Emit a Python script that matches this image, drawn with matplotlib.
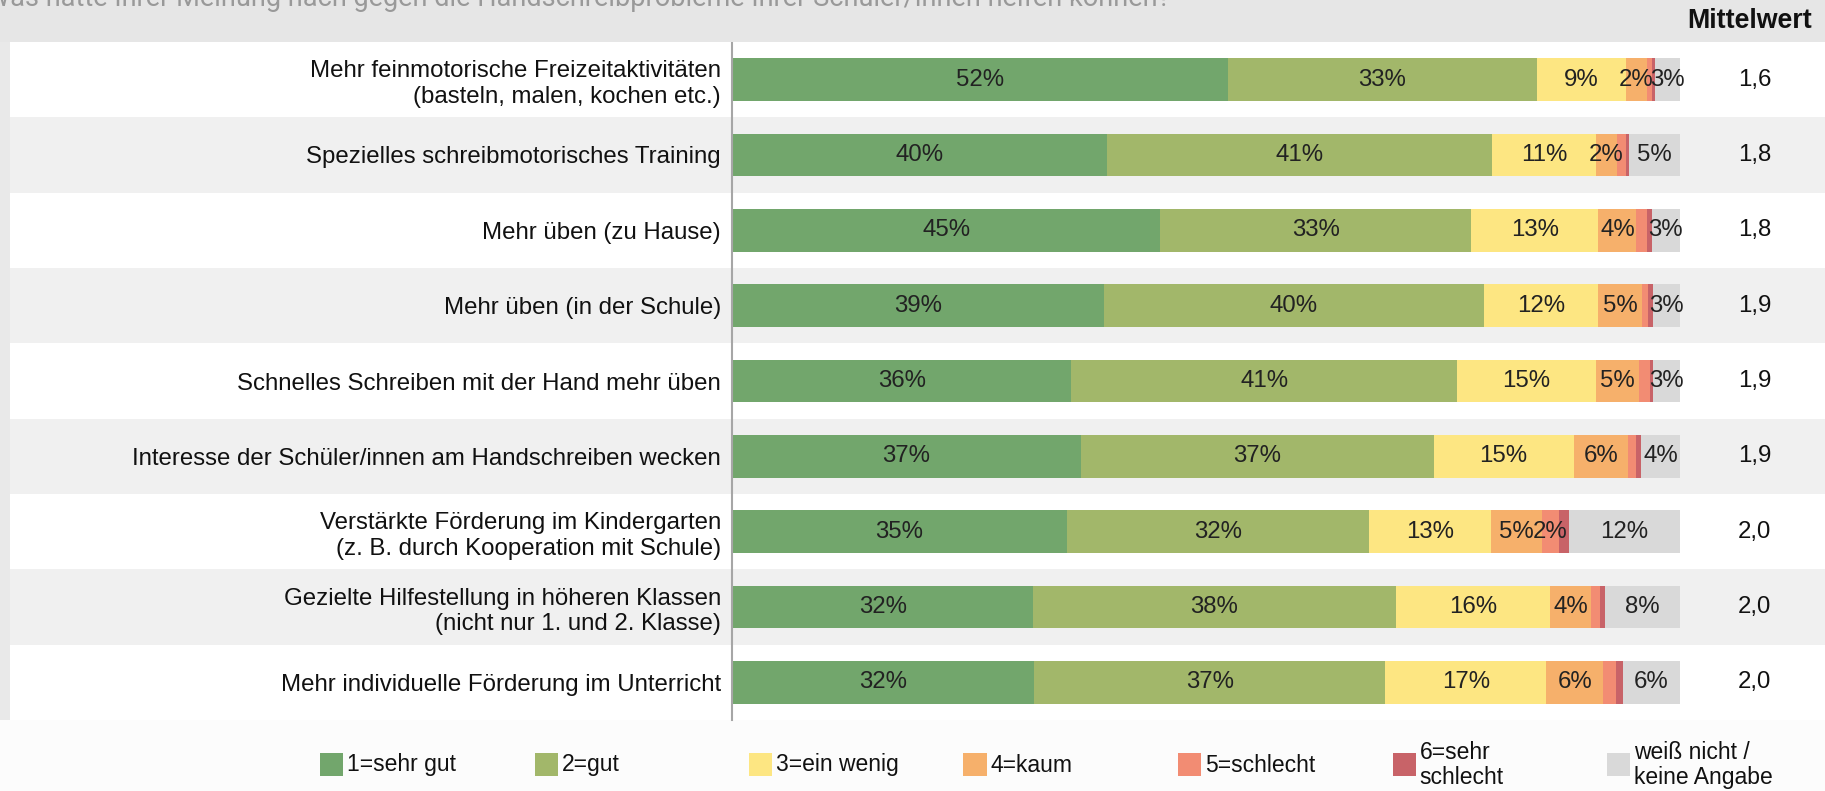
import numpy as np
import matplotlib
matplotlib.use("Agg")
import matplotlib.pyplot as plt
from matplotlib.patches import Rectangle

plt.rcParams['font.family'] = ['Liberation Sans', 'DejaVu Sans']

W, H = 1825, 791   # figure size in pixels

title = "Was hätte Ihrer Meinung nach gegen die Handschreibprobleme Ihrer Schüler/innen helfen können?"

items = [
    "Mehr feinmotorische Freizeitaktivitäten\n(basteln, malen, kochen etc.)",
    "Spezielles schreibmotorisches Training",
    "Mehr üben (zu Hause)",
    "Mehr üben (in der Schule)",
    "Schnelles Schreiben mit der Hand mehr üben",
    "Interesse der Schüler/innen am Handschreiben wecken",
    "Verstärkte Förderung im Kindergarten\n(z. B. durch Kooperation mit Schule)",
    "Gezielte Hilfestellung in höheren Klassen\n(nicht nur 1. und 2. Klasse)",
    "Mehr individuelle Förderung im Unterricht",
]

# shares in percent per answer category
sehr_gut = [52.3, 39.6, 45.2, 39.2, 35.8, 36.8, 35.3, 31.8, 31.9]
gut = [32.6, 40.6, 32.8, 40.1, 40.7, 37.2, 31.9, 38.2, 37.0]
ein_wenig = [9.4, 10.9, 13.4, 12.1, 14.6, 14.8, 12.9, 16.3, 17.0]
kaum = [2.2, 2.3, 4.0, 4.6, 4.6, 5.7, 5.3, 4.3, 6.0]
schlecht = [0.5, 0.9, 1.1, 0.6, 1.1, 0.9, 1.8, 1.0, 1.4]
sehr_schlecht = [0.4, 0.3, 0.5, 0.6, 0.3, 0.5, 1.1, 0.5, 0.7]
keine_angabe = [2.6, 5.4, 3.0, 2.8, 2.9, 4.1, 11.7, 7.9, 6.0]

mittelwert = [1.6, 1.8, 1.8, 1.9, 1.9, 1.9, 2.0, 2.0, 2.0]

series = [sehr_gut, gut, ein_wenig, kaum, schlecht, sehr_schlecht, keine_angabe]
legend_labels = ["1=sehr gut", "2=gut", "3=ein wenig", "4=kaum", "5=schlecht",
                 "6=sehr\nschlecht", "weiß nicht /\nkeine Angabe"]
colors = ["#72a66c", "#a2b76a", "#fde682", "#f6b06b", "#f28c73", "#c86368", "#d9d9d9"]

fig = plt.figure(figsize=(W / 100, H / 100), dpi=100, facecolor="#fcfcfc")

# background strips
fig.patches.append(Rectangle((0, 1 - 42 / H), 1, 42 / H, transform=fig.transFigure,
                             facecolor="#e6e6e6", edgecolor="none", zorder=0))
fig.patches.append(Rectangle((0, 1 - 720 / H), 10 / W, (720 - 42) / H, transform=fig.transFigure,
                             facecolor="#e9e9e9", edgecolor="none", zorder=0))

n = len(items)
y = np.arange(n)

# alternating row bands
bg = fig.add_axes([10 / W, 1 - 720 / H, 1 - 10 / W, (720 - 42) / H])
bg.set_xlim(0, 1)
bg.set_ylim(n - 0.5, -0.5)
for i in y:
    bg.axhspan(i - 0.5, i + 0.5, color="#ffffff" if i % 2 == 0 else "#f0f0f0", lw=0)
bg.axis("off")

ax = fig.add_axes([732 / W, 1 - 720 / H, (1680 - 732) / W, (720 - 42) / H])
ax.patch.set_alpha(0)
ax.set_xlim(0, 100)
ax.set_ylim(n - 0.5, -0.5)

left = np.zeros(n)
for vals, col in zip(series, colors):
    vals = np.array(vals)
    ax.barh(y, vals, left=left, height=0.566, color=col, edgecolor="none")
    for yi, l, v in zip(y, left, vals):
        if v >= 1.5:
            ax.text(l + v / 2, yi, f"{round(v)}%", ha="center", va="center",
                    fontsize=17.3, color="#222222")
    left += vals

for yi, m in zip(y, mittelwert):
    ax.text(107.9, yi, f"{m:.1f}".replace(".", ","), ha="center", va="center",
            fontsize=17.3, color="#111111", clip_on=False)

ax.set_yticks(y)
ax.set_yticklabels(items, fontsize=17.3, color="#111111")
ax.tick_params(axis="y", length=0, pad=8)
ax.set_xticks([])
for s in ["top", "right", "bottom"]:
    ax.spines[s].set_visible(False)
ax.spines["left"].set_color("#a6a6a6")
ax.spines["left"].set_linewidth(1.5)

fig.text(1750 / W, 1 - 21 / H, "Mittelwert", ha="center", va="center",
         fontsize=19.3, fontweight="bold", color="#111111")

fig.text(-14 / W, 1 - 6 / H, title, ha="left", va="baseline", fontsize=19.5,
         color="#999999", family=["Roboto", "DejaVu Sans"])

# legend in equal slots
for i, (lab, col) in enumerate(zip(legend_labels, colors)):
    x0 = 320 + i * 214.5
    fig.patches.append(Rectangle((x0 / W, 1 - 776 / H), 23 / W, 23 / H,
                                 transform=fig.transFigure, facecolor=col, edgecolor="none"))
    fig.text((x0 + 27) / W, 1 - 765 / H, lab, ha="left", va="center",
             fontsize=16.5, color="#111111", linespacing=1.15)

fig.savefig("out.png", dpi=100, facecolor=fig.get_facecolor())
